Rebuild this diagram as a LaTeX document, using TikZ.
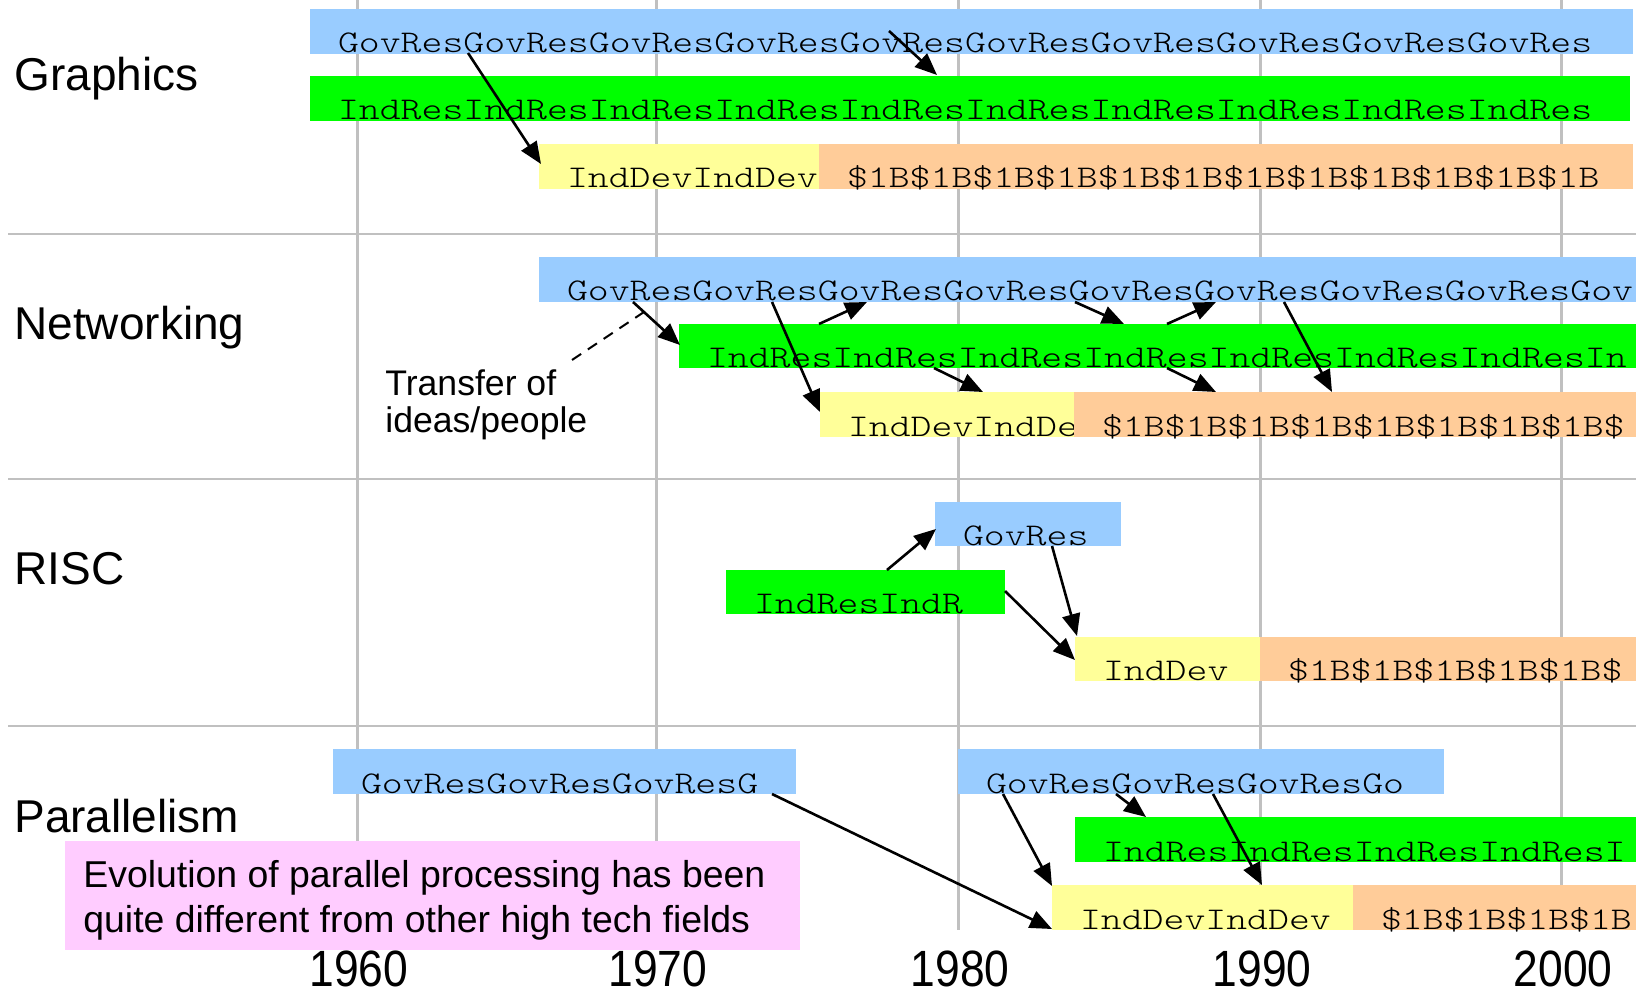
\documentclass[tikz,border=0pt]{standalone}
\usepackage{fontspec}
\setmainfont{Liberation Sans}
\newfontfamily\barfont[FakeStretch=1.26]{Latin Modern Mono Light}
\newfontfamily\yearfont[FakeStretch=0.87]{Liberation Sans}
\usetikzlibrary{arrows.meta,calc}

\definecolor{govblue}{HTML}{99CCFF}
\definecolor{indgreen}{HTML}{00FF00}
\definecolor{devyellow}{HTML}{FFFF99}
\definecolor{bigorange}{HTML}{FFCC99}
\definecolor{notepink}{HTML}{FFCCFF}
\definecolor{gridgray}{HTML}{C0C0C0}

% one timeline bar: name, colour, x1, y1, x2, y2, repeated label
\newcommand{\tlbar}[7]{%
  \node[barbox, fill=#2, minimum width={(#5-#3)*0.5pt},
        minimum height={(#6-#4)*0.5pt}] (#1) at (#3,#4) {};
  \node[bartext] (#1-t) at ($(#1.south west)+(28,-1)$) {#7};
}

\begin{document}
\begin{tikzpicture}[x=0.5pt,y=-0.5pt,
  barbox/.style={draw=none, inner sep=0pt, outer sep=0pt, anchor=north west},
  bartext/.style={inner sep=0pt, outer sep=0pt, anchor=base west,
                  font=\barfont\fontsize{15.8}{19}\selectfont},
  rowlabel/.style={inner sep=0pt, anchor=base west, font=\fontsize{23}{27}\selectfont},
  notetext/.style={inner sep=0pt, anchor=base west, font=\fontsize{18.7}{22}\selectfont},
  xfertext/.style={inner sep=0pt, anchor=base west, font=\fontsize{17.8}{21}\selectfont},
  yearlabel/.style={inner sep=0pt, anchor=base, font=\yearfont\fontsize{25.5}{30}\selectfont},
  gridline/.style={draw=gridgray, line width=1.5pt},
  rowsep/.style={draw=gridgray, line width=1.2pt},
  flow/.style={-{Triangle[length=11pt,width=9pt]}, line width=1.3pt, black},
  xferline/.style={black, line width=1pt, dash pattern=on 5.5pt off 4pt}]

\useasboundingbox (0,0) rectangle (1636,994);
\begin{scope}
\clip (0,0) rectangle (1636,994);

% decade grid and year labels
\foreach \yr/\gx in {1960/357,1970/656,1980/958,1990/1260,2000/1561}{
  \draw[gridline] (\gx,0) -- (\gx,930);
  \node[yearlabel] (y\yr) at (\gx+2,986) {\yr};
}

% row separators
\draw[rowsep] (8,234) -- (1636,234);
\draw[rowsep] (8,479) -- (1636,479);
\draw[rowsep] (8,726) -- (1636,726);

% row titles
\node[rowlabel] (lgraphics) at (14,91) {Graphics};
\node[rowlabel] (lnetworking) at (14,340) {Networking};
\node[rowlabel] (lrisc) at (14,584) {RISC};
\node[rowlabel] (lparallel) at (14,832) {Parallelism};

% Graphics
\tlbar{grGov}{govblue}{310}{9}{1633}{54}{GovResGovResGovResGovResGovResGovResGovResGovResGovResGovRes}
\tlbar{grInd}{indgreen}{310}{76}{1630}{121}{IndResIndResIndResIndResIndResIndResIndResIndResIndResIndRes}
\tlbar{grDev}{devyellow}{539}{144}{819}{189}{IndDevIndDev}
\tlbar{grBig}{bigorange}{819}{144}{1633}{189}{\$1B\$1B\$1B\$1B\$1B\$1B\$1B\$1B\$1B\$1B\$1B\$1B}

% Networking
\tlbar{nwGov}{govblue}{539}{257}{1636}{302}{GovResGovResGovResGovResGovResGovResGovResGovResGov}
\tlbar{nwInd}{indgreen}{679}{324}{1636}{368}{IndResIndResIndResIndResIndResIndResIndResIn}
\tlbar{nwDev}{devyellow}{820}{392}{1074}{437}{IndDevIndDev}
\tlbar{nwBig}{bigorange}{1074}{392}{1636}{437}{\$1B\$1B\$1B\$1B\$1B\$1B\$1B\$1B\$}

% RISC
\tlbar{riGov}{govblue}{935}{502}{1121}{546}{GovRes}
\tlbar{riInd}{indgreen}{726}{570}{1005}{614}{IndResIndR}
\tlbar{riDev}{devyellow}{1075}{637}{1260}{681}{IndDev}
\tlbar{riBig}{bigorange}{1260}{637}{1636}{681}{\$1B\$1B\$1B\$1B\$1B\$}

% Parallelism
\tlbar{paGovA}{govblue}{333}{749}{796}{794}{GovResGovResGovResG}
\tlbar{paGovB}{govblue}{958}{749}{1444}{794}{GovResGovResGovResGo}
\tlbar{paInd}{indgreen}{1075}{817}{1636}{862}{IndResIndResIndResIndResI}
\tlbar{paDev}{devyellow}{1052}{885}{1353}{930}{IndDevIndDev}
\tlbar{paBig}{bigorange}{1353}{885}{1636}{930}{\$1B\$1B\$1B\$1B}

% note box
\node[barbox, fill=notepink, minimum width=367.5pt, minimum height=54.5pt] (note) at (65,841) {};
\node[notetext] (note-a) at (83,887) {Evolution of parallel processing has been};
\node[notetext] (note-b) at (83,932) {quite different from other high tech fields};

% transfer annotation
\node[xfertext] (xfer-a) at (385,395) {Transfer of};
\node[xfertext] (xfer-b) at (385,432) {ideas/people};
\coordinate (xfer) at (572,360);

% Graphics flows
\draw[flow] ($(grGov.south west)+(158,-1)$) -- ($(grDev.north west)+(2,20)$);
\draw[flow] ($(grGov.south west)+(579,-23)$) -- ($(grInd.north west)+(627,-1)$);

% Networking flows
\draw[flow] ($(nwGov.south west)+(94,0)$) -- ($(nwInd.north west)+(1,21)$);
\draw[flow] ($(nwGov.south west)+(233,0)$) -- ($(nwDev.north west)+(0,20)$);
\draw[flow] ($(nwInd.north west)+(140,0)$) -- ($(nwGov.south west)+(328,0)$);
\draw[flow] ($(nwInd.south west)+(255,0)$) -- ($(nwDev.north west)+(163,0)$);
\draw[flow] ($(nwGov.south west)+(536,0)$) -- ($(nwInd.north west)+(445,0)$);
\draw[flow] ($(nwInd.north west)+(488,0)$) -- ($(nwGov.south west)+(677,0)$);
\draw[flow] ($(nwInd.south west)+(488,0)$) -- ($(nwBig.north west)+(142,0)$);
\draw[flow] ($(nwGov.south west)+(745,0)$) -- ($(nwBig.north west)+(258,0)$);
\draw[xferline] (xfer) -- ($(nwGov.south west)+(108,8)$);

% RISC flows
\draw[flow] ($(riInd.north west)+(161,0)$) -- ($(riGov.south west)+(1,-17)$);
\draw[flow] ($(riGov.south west)+(117,0)$) -- ($(riDev.north west)+(2,-1)$);
\draw[flow] ($(riInd.north east)+(0,21)$) -- ($(riDev.north west)+(0,23)$);

% Parallelism flows
\draw[flow] ($(paGovA.south west)+(439,0)$) -- ($(paDev.south west)+(0,-1)$);
\draw[flow] ($(paGovB.south west)+(45,0)$) -- ($(paDev.north west)+(0,1)$);
\draw[flow] ($(paGovB.south west)+(158,0)$) -- ($(paInd.north west)+(71,0)$);
\draw[flow] ($(paGovB.south west)+(255,0)$) -- ($(paDev.north west)+(210,0)$);

\end{scope}
\end{tikzpicture}
\end{document}
